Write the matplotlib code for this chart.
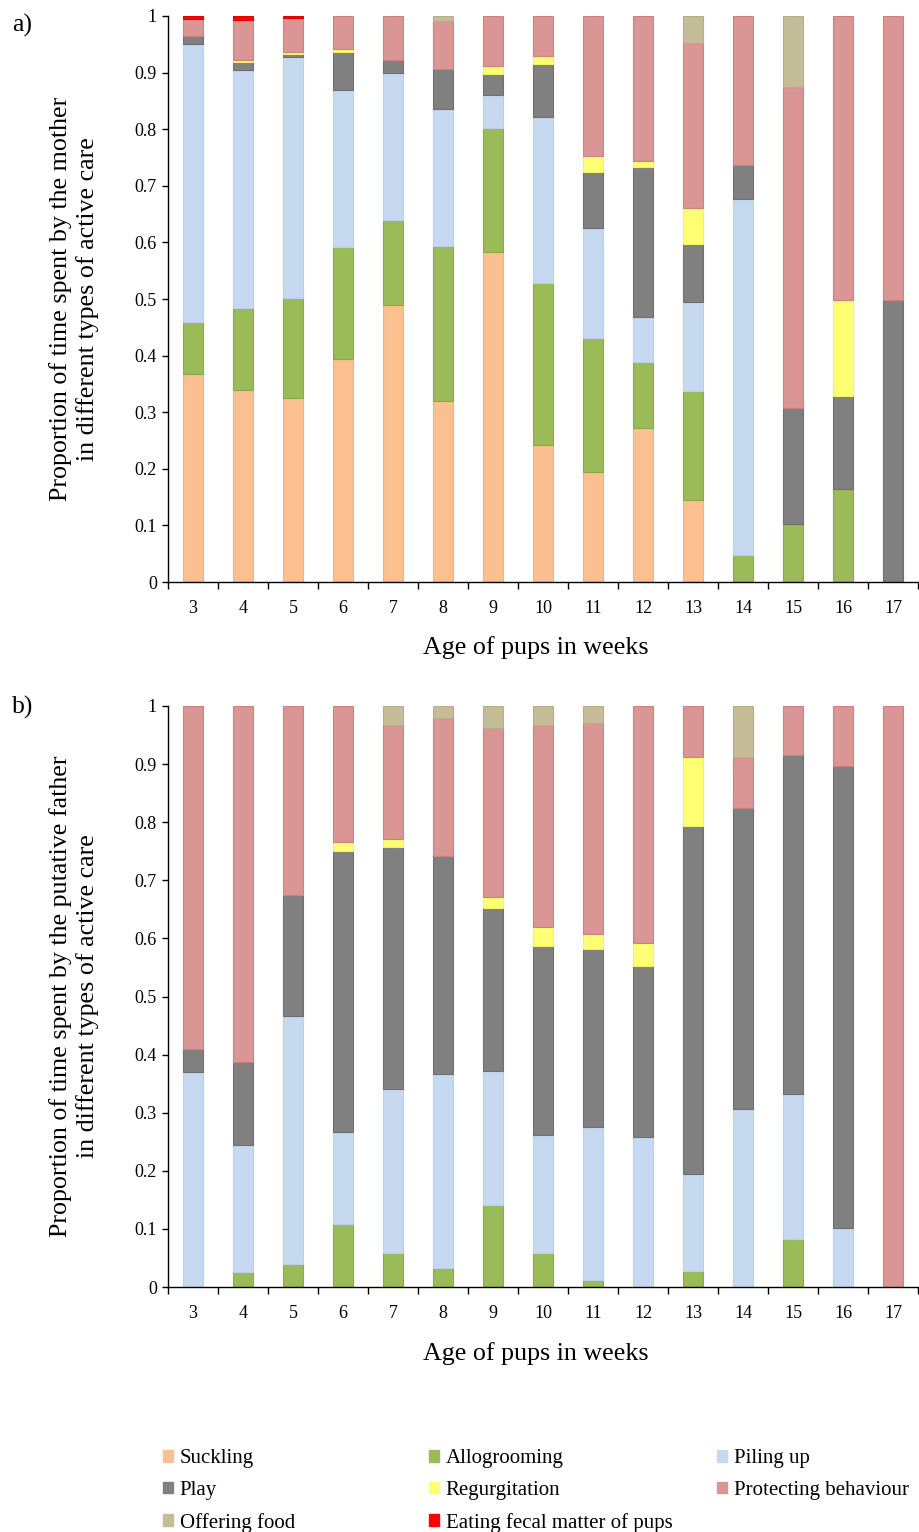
import matplotlib
matplotlib.use("Agg")
import matplotlib.pyplot as plt
from matplotlib.patches import Patch
import numpy as np

plt.rcParams['font.family'] = ['Liberation Serif', 'DejaVu Serif']

weeks = [3, 4, 5, 6, 7, 8, 9, 10, 11, 12, 13, 14, 15, 16, 17]
categories = ["Suckling", "Allogrooming", "Piling up", "Play", "Regurgitation",
              "Protecting behaviour", "Offering food", "Eating fecal matter of pups"]
colors = ["#FAC090", "#9BBB59", "#C6D9F1", "#808080", "#FFFF73",
          "#D99694", "#C4BD97", "#FF0000"]
edges = ["#F5B07A", "#8AAA48", "#B9CFEA", "#6E6E6E", "#F2F260",
         "#D0807E", "#B5AE86", "#E00000"]

# Panel a) mother
mother_suckling = [0.367, 0.340, 0.325, 0.394, 0.490, 0.319, 0.583, 0.242, 0.195, 0.272, 0.144, 0.0, 0.0, 0.0, 0.0]
mother_allogrooming = [0.093, 0.144, 0.176, 0.198, 0.150, 0.275, 0.220, 0.286, 0.236, 0.117, 0.194, 0.048, 0.102, 0.164, 0.0]
mother_piling = [0.490, 0.421, 0.427, 0.277, 0.260, 0.242, 0.058, 0.293, 0.195, 0.079, 0.157, 0.628, 0.0, 0.0, 0.0]
mother_play = [0.015, 0.013, 0.005, 0.068, 0.022, 0.070, 0.036, 0.095, 0.098, 0.265, 0.102, 0.061, 0.206, 0.164, 0.499]
mother_regurgitation = [0.0, 0.005, 0.004, 0.005, 0.0, 0.0, 0.015, 0.014, 0.029, 0.011, 0.063, 0.0, 0.0, 0.171, 0.0]
mother_protecting = [0.030, 0.070, 0.060, 0.058, 0.078, 0.085, 0.088, 0.070, 0.247, 0.256, 0.292, 0.263, 0.566, 0.501, 0.501]
mother_offering = [0.0, 0.0, 0.0, 0.0, 0.0, 0.009, 0.0, 0.0, 0.0, 0.0, 0.048, 0.0, 0.126, 0.0, 0.0]
mother_fecal = [0.005, 0.007, 0.003, 0.0, 0.0, 0.0, 0.0, 0.0, 0.0, 0.0, 0.0, 0.0, 0.0, 0.0, 0.0]

# Panel b) putative father
father_suckling = [0.0] * 15
father_allogrooming = [0.0, 0.026, 0.039, 0.109, 0.058, 0.032, 0.141, 0.058, 0.012, 0.0, 0.028, 0.0, 0.083, 0.0, 0.0]
father_piling = [0.370, 0.218, 0.428, 0.158, 0.282, 0.335, 0.231, 0.204, 0.264, 0.258, 0.166, 0.306, 0.250, 0.102, 0.0]
father_play = [0.040, 0.144, 0.208, 0.483, 0.418, 0.374, 0.281, 0.325, 0.305, 0.295, 0.599, 0.519, 0.582, 0.795, 0.0]
father_regurgitation = [0.0, 0.0, 0.0, 0.016, 0.013, 0.0, 0.018, 0.032, 0.027, 0.039, 0.119, 0.0, 0.0, 0.0, 0.0]
father_protecting = [0.590, 0.612, 0.325, 0.234, 0.196, 0.239, 0.291, 0.348, 0.363, 0.408, 0.088, 0.087, 0.085, 0.103, 1.0]
father_offering = [0.0, 0.0, 0.0, 0.0, 0.033, 0.020, 0.038, 0.033, 0.029, 0.0, 0.0, 0.088, 0.0, 0.0, 0.0]
father_fecal = [0.0] * 15

mother = [mother_suckling, mother_allogrooming, mother_piling, mother_play,
          mother_regurgitation, mother_protecting, mother_offering, mother_fecal]
father = [father_suckling, father_allogrooming, father_piling, father_play,
          father_regurgitation, father_protecting, father_offering, father_fecal]

W, H = 919, 1532
fig = plt.figure(figsize=(W / 100, H / 100), dpi=100)

def make_axes(top_px, bottom_px):
    left_px, right_px = 168, 918
    return fig.add_axes([left_px / W, 1 - bottom_px / H,
                         (right_px - left_px) / W, (bottom_px - top_px) / H])

ax_a = make_axes(16, 582)
ax_b = make_axes(706, 1287)

ylabels = ["Proportion of time spent by the mother\nin different types of active care",
           "Proportion of time spent by the putative father\nin different types of active care"]

for ax, data, ylab in [(ax_a, mother, ylabels[0]), (ax_b, father, ylabels[1])]:
    x = np.array(weeks)
    bottom = np.zeros(len(weeks))
    for vals, c, ec in zip(data, colors, edges):
        v = np.array(vals)
        m = v > 0
        if m.any():
            ax.bar(x[m], v[m], bottom=bottom[m], width=0.4, color=c, edgecolor=ec,
                   linewidth=0.8, zorder=2)
        bottom += v
    ax.set_xlim(2.5, 17.5)
    ax.set_ylim(0, 1)
    ax.set_yticks(np.arange(0, 1.01, 0.1))
    ax.set_yticklabels(["0"] + [f"{t:.1f}" for t in np.arange(0.1, 0.95, 0.1)] + ["1"])
    ax.set_xticks(weeks)
    ax.set_xticklabels([str(w) for w in weeks])
    ax.set_xticks(np.arange(2.5, 17.6, 1.0), minor=True)
    ax.tick_params(axis='x', which='major', length=0, pad=13, labelsize=13)
    ax.tick_params(axis='x', which='minor', length=5, width=1.0, direction='out')
    ax.tick_params(axis='y', which='major', length=4, width=1.0, direction='out',
                   pad=4, labelsize=13)
    for s in ['top', 'right']:
        ax.spines[s].set_visible(False)
    for s in ['left', 'bottom']:
        ax.spines[s].set_linewidth(1.0)
    ax.set_ylabel(ylab, fontsize=18.7, linespacing=1.25)
    ax.yaxis.set_label_coords(-0.092, 0.5)
    ax.set_xlabel("Age of pups in weeks", fontsize=18.7)
    ax.xaxis.set_label_coords(0.49, -0.095)

fig.text(12 / W, 1 - 25 / H, "a)", fontsize=18.5, va='center', ha='left')
fig.text(12 / W, 1 - 707 / H, "b)", fontsize=18.5, va='center', ha='left')

# Legend in three columns
handles = [Patch(facecolor=c, edgecolor=c) for c in colors]
col_x = [163, 429, 717]
rows = [[0, 3, 6], [1, 4, 7], [2, 5]]
for cx, idxs in zip(col_x, rows):
    fig.legend([handles[i] for i in idxs], [categories[i] for i in idxs],
               loc='upper left', bbox_to_anchor=(cx / W, 1 - 1449 / H),
               frameon=False, fontsize=15, handlelength=0.5, handleheight=0.5,
               handletextpad=0.3, labelspacing=0.62, borderpad=0, borderaxespad=0)

fig.savefig("out.png", dpi=100)
